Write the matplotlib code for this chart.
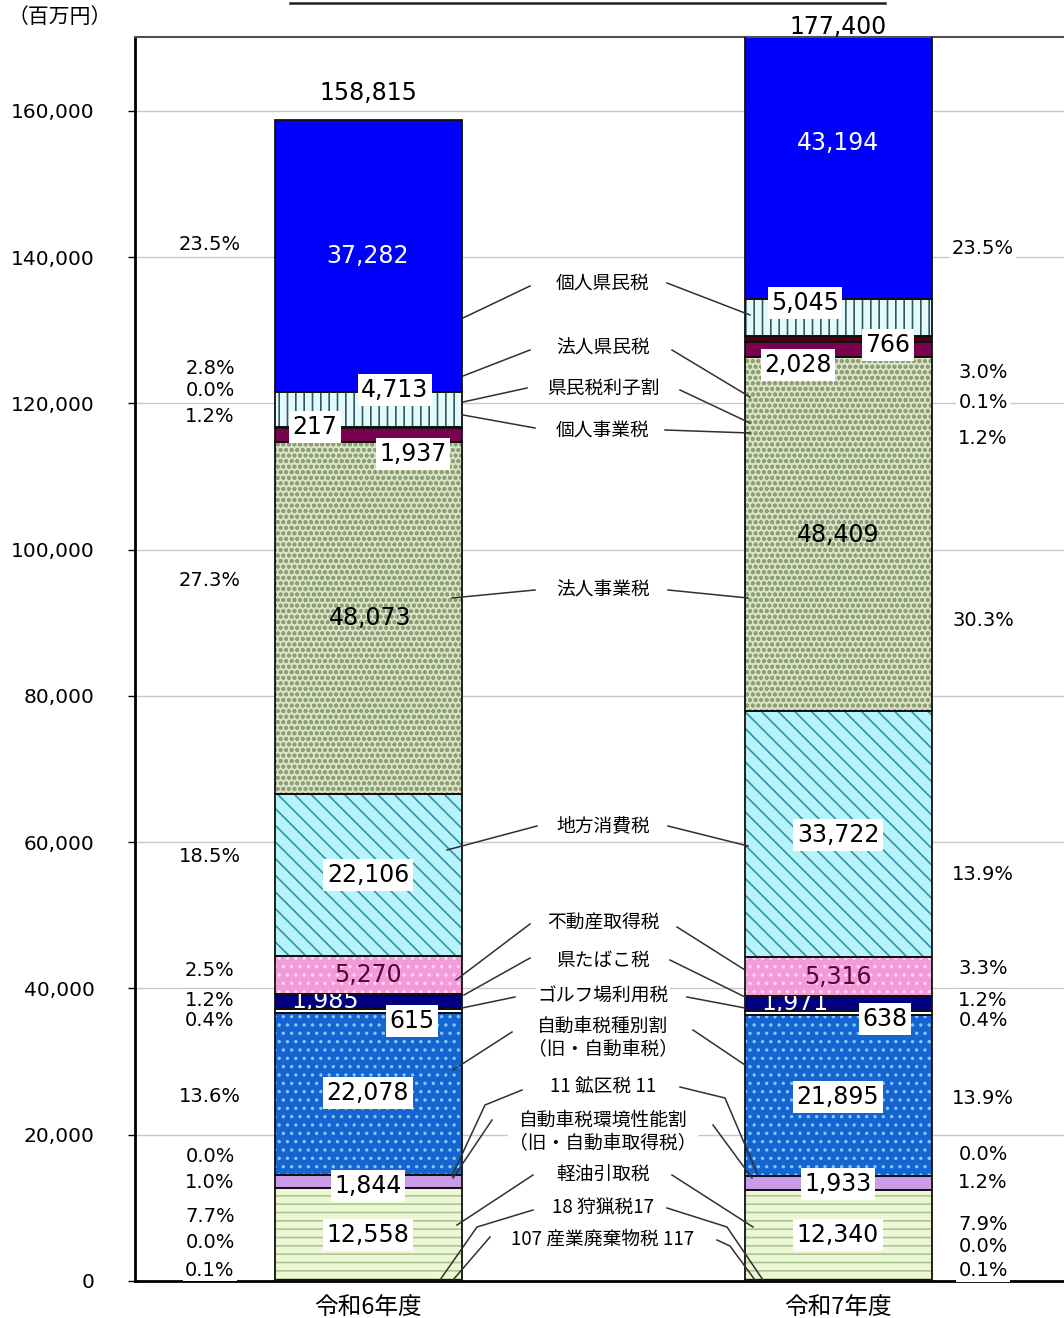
import numpy as np
import matplotlib.pyplot as plt
from matplotlib.transforms import Affine2D
from matplotlib.lines import Line2D

plt.rcParams['font.family'] = ['Noto Sans CJK JP', 'DejaVu Sans']
plt.rcParams['hatch.linewidth'] = 1.2
NUMFONT = ['DejaVu Sans', 'Noto Sans CJK JP']

# data (bottom of the stack first)
years = ['令和6年度', '令和7年度']
taxes = ['産業廃棄物税', '狩猟税', '軽油引取税', '自動車税環境性能割', '鉱区税',
         '自動車税種別割', 'ゴルフ場利用税', '県たばこ税', '不動産取得税', '地方消費税',
         '法人事業税', '個人事業税', '県民税利子割', '法人県民税', '個人県民税']
r6 = [107, 18, 12558, 1844, 11, 22078, 615, 1985, 5270, 22106, 48073, 1937, 217, 4713, 37282]
r7 = [117, 17, 12340, 1933, 11, 21895, 638, 1971, 5316, 33722, 48409, 2028, 766, 5045, 43194]
totals = [158815, 177400]
pct6 = ['0.1%', '0.0%', '7.7%', '1.0%', '0.0%', '13.6%', '0.4%', '1.2%', '2.5%',
        '18.5%', '27.3%', '1.2%', '0.0%', '2.8%', '23.5%']
pct7 = ['0.1%', '0.0%', '7.9%', '1.2%', '0.0%', '13.9%', '0.4%', '1.2%', '3.3%',
        '13.9%', '30.3%', '1.2%', '0.1%', '3.0%', '23.5%']
mid_labels = ['個人県民税', '法人県民税', '県民税利子割', '個人事業税', '法人事業税',
              '地方消費税', '不動産取得税', '県たばこ税', 'ゴルフ場利用税',
              '自動車税種別割\n（旧・自動車税）', '11 鉱区税 11',
              '自動車税環境性能割\n（旧・自動車取得税）', '軽油引取税', '18 狩猟税17',
              '107 産業廃棄物税 117']

# styles: face, hatch, hatch colour
styles = [
    ('#eef6d8', '--', '#a8c890'),
    ('#eef6d8', '', '#a8c890'),
    ('#eef6d8', '--', '#a8c890'),
    ('#c99be8', '', '#c99be8'),
    ('#1565d0', '', '#1565d0'),
    ('#1565d0', '..', '#8cc4ff'),
    ('#ffffff', '', '#ffffff'),
    ('#000080', '', '#000080'),
    ('#f39bd9', '..', '#ffd8f2'),
    ('#b8f2fa', '\\\\', '#2a96a6'),
    ('#d9e4c4', 'ooo', '#8e9e78'),
    ('#7a0050', '', '#7a0050'),
    ('#4a0018', '', '#4a0018'),
    ('#e4fafa', '||', '#2e5a66'),
    ('#0000ff', '', '#0000ff'),
]

W, H = 1064, 1318
fig = plt.figure(figsize=(W / 100, H / 100), dpi=100)
ax = fig.add_axes([135 / W, 1 - 1281 / H, (W - 135) / W, (1281 - 37) / H])
pix = Affine2D().scale(1 / W, -1 / H).translate(0, 1) + fig.transFigure

x = np.array([0, 1])
width = 0.398
vals = np.array([r6, r7])
bottoms = np.zeros(2)
patches = {}
for i, tax in enumerate(taxes):
    face, hatch, hc = styles[i]
    bars = ax.bar(x, vals[:, i], width, bottom=bottoms, color=face, hatch=hatch,
                  edgecolor=hc, linewidth=0, zorder=2)
    ax.bar(x, vals[:, i], width, bottom=bottoms, fill=False, edgecolor='#101010',
           linewidth=1.3, zorder=3)
    patches[i] = bars.patches
    bottoms = bottoms + vals[:, i]

ax.set_xlim(-0.497, 1.481)
ax.set_ylim(0, 170100)
ax.set_yticks(np.arange(0, 160001, 20000))
ax.set_yticklabels([f'{v:,}' for v in range(0, 160001, 20000)], fontsize=14.5,
                   family=NUMFONT)
ax.set_xticks(x)
ax.set_xticklabels(years, fontsize=17)
ax.tick_params(axis='x', length=0, pad=11)
ax.tick_params(axis='y', length=5, width=1, pad=24)
ax.grid(axis='y', color='#c8c8c8', linewidth=1, zorder=0)
ax.set_axisbelow(True)
ax.spines['right'].set_visible(False)
for s in ['left', 'bottom']:
    ax.spines[s].set_linewidth(2)
ax.spines['top'].set_linewidth(1.5)
ax.spines['top'].set_color('#505050')

# value labels: index -> (px, py, style)
val_pos = [
    {2: (368, 1235, 'box'), 3: (368, 1186, 'box'), 5: (368, 1093, 'box'),
     6: (412, 1021, 'box'), 7: (325, 1001, 'navy'), 8: (368, 975, 'pink'),
     9: (368, 875, 'box'), 10: (370, 618, 'plain'), 11: (413, 454, 'box'),
     12: (315, 427, 'box'), 13: (395, 390, 'box'), 14: (368, 256, 'blue')},
    {2: (838, 1235, 'box'), 3: (838, 1184, 'box'), 5: (838, 1097, 'box'),
     6: (885, 1019, 'box'), 7: (795, 1003, 'navy'), 8: (838, 977, 'pink'),
     9: (838, 835, 'box'), 10: (838, 535, 'plain'), 11: (798, 365, 'box'),
     12: (888, 345, 'box'), 13: (805, 303, 'box'), 14: (838, 143, 'blue')},
]
for j, series in enumerate([r6, r7]):
    for i, (px, py, st) in val_pos[j].items():
        kw = dict(transform=pix, ha='center', va='center', fontsize=17, zorder=6,
                  family=NUMFONT)
        if st == 'box':
            t = fig.text(px, py, f'{series[i]:,}', color='black',
                         bbox=dict(boxstyle='square,pad=0.15', fc='white', ec='none'), **kw)
        elif st == 'blue':
            t = fig.text(px, py, f'{series[i]:,}', color='white', **kw)
        elif st == 'navy':
            t = fig.text(px, py, f'{series[i]:,}', color='white', **kw)
            t.set_clip_path(patches[i][j])
        elif st == 'pink':
            t = fig.text(px, py, f'{series[i]:,}', color='#5a0038', **kw)
        else:
            t = fig.text(px, py, f'{series[i]:,}', color='black', **kw)

fig.text(368, 93, f'{totals[0]:,}', transform=pix, ha='center', va='center',
         fontsize=17, family=NUMFONT)
fig.text(838, 27, f'{totals[1]:,}', transform=pix, ha='center', va='center',
         fontsize=17, family=NUMFONT)

# percentage labels
py6 = [1270, 1243, 1216, 1182, 1157, 1097, 1021, 1000, 970, 857, 580, 416, 391, 368, 244]
py7 = [1271, 1246, 1224, 1182, 1154, 1099, 1021, 1000, 969, 874, 621, 439, 402, 373, 248]
for p, py in zip(pct6, py6):
    fig.text(210, py, p, transform=pix, ha='center', va='center', fontsize=14,
             family=NUMFONT, bbox=dict(boxstyle='square,pad=0.1', fc='white', ec='none'))
for p, py in zip(pct7, py7):
    fig.text(983, py, p, transform=pix, ha='center', va='center', fontsize=14,
             family=NUMFONT, bbox=dict(boxstyle='square,pad=0.1', fc='white', ec='none'))

# middle labels and leader lines
mid_y = [283, 348, 388, 430, 590, 826, 923, 960, 996, 1038, 1087, 1132, 1174, 1208, 1239]
left_lines = [
    [(530, 286), (463, 318)], [(530, 350), (463, 376)], [(527, 388), (463, 402)],
    [(535, 428), (463, 415)], [(535, 590), (452, 598)], [(537, 826), (447, 850)],
    [(530, 924), (456, 980)], [(530, 958), (464, 995)], [(515, 997), (462, 1008)],
    [(512, 1032), (453, 1070)], [(522, 1090), (485, 1105), (452, 1176)],
    [(492, 1120), (453, 1178)], [(533, 1175), (457, 1225)],
    [(533, 1210), (477, 1227), (440, 1280)], [(490, 1237), (453, 1280)],
]
right_lines = [
    [(667, 283), (750, 315)], [(672, 350), (750, 397)], [(680, 390), (750, 423)],
    [(665, 430), (750, 433)], [(668, 590), (748, 598)], [(668, 826), (748, 846)],
    [(677, 927), (745, 970)], [(670, 960), (745, 997)], [(687, 997), (745, 1008)],
    [(693, 1030), (745, 1065)], [(680, 1087), (725, 1098), (757, 1173)],
    [(713, 1125), (752, 1178)], [(672, 1175), (753, 1227)],
    [(667, 1208), (727, 1227), (763, 1280)], [(717, 1240), (730, 1246), (755, 1280)],
]
for lab, py, ll, rl in zip(mid_labels, mid_y, left_lines, right_lines):
    fig.text(603, py, lab, transform=pix, ha='center', va='center', fontsize=13.5,
             linespacing=1.2, zorder=7,
             bbox=dict(boxstyle='square,pad=0.05', fc='white', ec='none'))
    for pts in (ll, rl):
        xs, ys = zip(*pts)
        fig.add_artist(Line2D(xs, ys, transform=pix, color='#303030', linewidth=1.1, zorder=5))

fig.text(60, 17, '（百万円）', transform=pix, ha='center', va='center', fontsize=15)
fig.add_artist(Line2D([290, 885], [3, 3], transform=pix, color='#202020', linewidth=1.8))

fig.savefig('out.png', dpi=100)
